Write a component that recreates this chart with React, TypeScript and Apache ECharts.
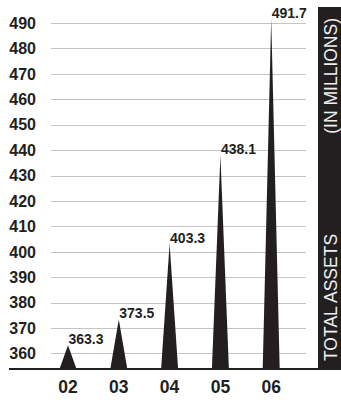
import React, { useEffect, useRef } from "react";
import * as echarts from "echarts";

// Fiscal years and total assets (in millions)
const years = ["02", "03", "04", "05", "06"];
const totalAssets = [363.3, 373.5, 403.3, 438.1, 491.7];

// Value axis range
const Y_MIN = 354;
const Y_MAX = 490;
const Y_STEP = 10;

const INK = "#231f20";
const FONT = "'Liberation Sans', Arial, Helvetica, sans-serif";

export default function App() {
  const ref = useRef<HTMLDivElement | null>(null);

  useEffect(() => {
    if (!ref.current) return;
    const chart = echarts.init(ref.current, null, { renderer: "svg" });

    const spikeHalfWidth = 8.5;

    chart.setOption({
      animation: false,
      backgroundColor: "#ffffff",
      grid: [
        // grid carrying the horizontal rules and value labels
        { left: 51, right: 35, top: 23.3, bottom: 31 },
        // grid carrying the year columns
        { left: 42.6, width: 254, top: 23.3, bottom: 31 },
      ],
      xAxis: [
        { type: "category", gridIndex: 0, data: years, show: false },
        {
          type: "category",
          gridIndex: 1,
          data: years,
          axisLine: { show: false },
          axisTick: { show: false },
          axisLabel: {
            margin: 9,
            color: INK,
            fontFamily: FONT,
            fontWeight: "bold",
            fontSize: 17.5,
          },
        },
      ],
      yAxis: [
        {
          type: "value",
          gridIndex: 0,
          min: Y_MIN,
          max: Y_MAX,
          minInterval: Y_STEP,
          maxInterval: Y_STEP,
          splitNumber: 14,
          axisLine: { show: false },
          axisTick: { show: false },
          axisLabel: {
            margin: 15,
            color: INK,
            fontFamily: FONT,
            fontWeight: "bold",
            fontSize: 16,
            formatter: (v: number) => (v % Y_STEP === 0 ? String(v) : ""),
          },
          splitLine: {
            show: true,
            showMinLine: false,
            lineStyle: { color: "#c4c4c4", width: 1 },
          },
        },
        {
          type: "value",
          gridIndex: 1,
          min: Y_MIN,
          max: Y_MAX,
          show: false,
          splitLine: { show: false },
        },
      ],
      series: [
        {
          type: "custom",
          xAxisIndex: 1,
          yAxisIndex: 1,
          clip: false,
          encode: { x: 0, y: 1 },
          data: totalAssets.map((v, i) => [i, v]),
          renderItem: (params: any, api: any) => {
            const idx = api.value(0);
            const val = api.value(1);
            const tip = api.coord([idx, val]);
            const base = api.coord([idx, Y_MIN]);
            return {
              type: "group",
              children: [
                {
                  type: "polygon",
                  shape: {
                    points: [
                      [base[0] - spikeHalfWidth, base[1]],
                      [tip[0], tip[1]],
                      [base[0] + spikeHalfWidth, base[1]],
                    ],
                  },
                  style: { fill: INK },
                },
                {
                  type: "text",
                  x: tip[0] + 18,
                  y: tip[1] + 1,
                  style: {
                    text: val.toFixed(1),
                    fill: INK,
                    font: `bold 14px ${FONT}`,
                    align: "center",
                    verticalAlign: "bottom",
                  },
                },
              ],
            };
          },
        },
      ],
      graphic: [
        // dark side band for the axis title
        {
          type: "rect",
          shape: { x: 318, y: 7, width: 23, height: 363 },
          style: { fill: INK },
          z: 50,
        },
        // baseline under the columns
        {
          type: "line",
          shape: { x1: 9, y1: 369, x2: 318, y2: 369 },
          style: { stroke: INK, lineWidth: 2 },
          z: 60,
        },
        {
          type: "text",
          x: 331,
          y: 361,
          rotation: Math.PI / 2,
          style: {
            text: "TOTAL ASSETS",
            fill: "#eeeeee",
            font: `17.5px ${FONT}`,
            align: "left",
            verticalAlign: "middle",
          },
          z: 70,
        },
        {
          type: "text",
          x: 331,
          y: 18,
          rotation: Math.PI / 2,
          style: {
            text: "(IN MILLIONS)",
            fill: "#eeeeee",
            font: `17.5px ${FONT}`,
            align: "right",
            verticalAlign: "middle",
          },
          z: 70,
        },
      ],
    });

    return () => chart.dispose();
  }, []);

  return (
    <div
      ref={ref}
      style={{ position: "absolute", left: 0, top: 0, width: 341, height: 400 }}
    />
  );
}
